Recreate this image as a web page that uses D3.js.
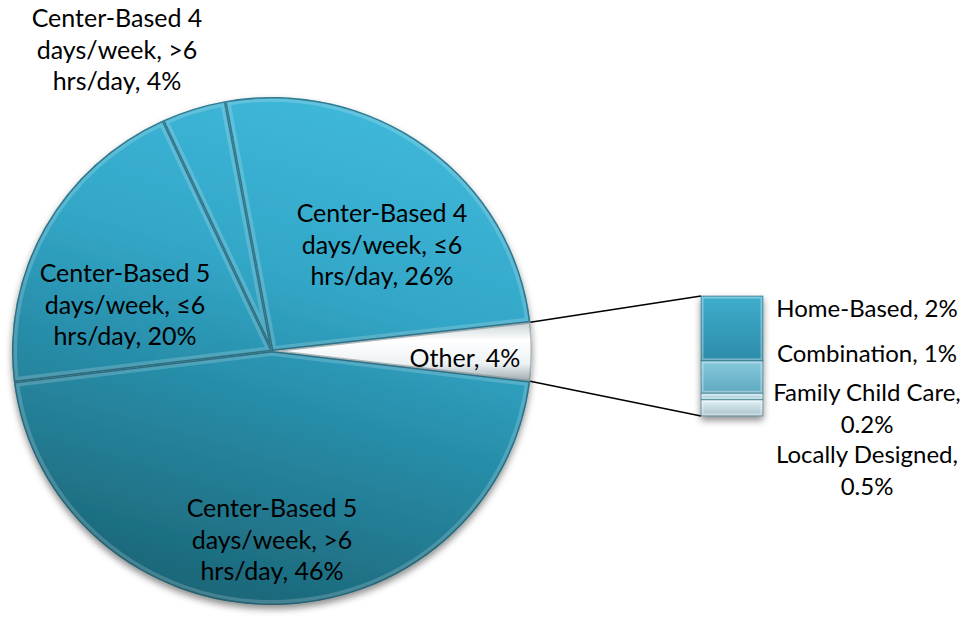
<!DOCTYPE html>
<html>
<head>
<meta charset="utf-8">
<script src="https://cdn.jsdelivr.net/npm/d3@7"></script>
<style>
  body { margin: 0; background: #fff; }
  svg { display: block; }
  text { font-family: Lato, "Open Sans", sans-serif; font-size: 25px; fill: #000; }
</style>
</head>
<body>
<div id="vis"></div>
<script>
// main pie slices, clockwise after "Other"
var pieCategories = ["Center-Based 5 days/week, >6 hrs/day", "Center-Based 5 days/week, \u22646 hrs/day",
    "Center-Based 4 days/week, >6 hrs/day", "Center-Based 4 days/week, \u22646 hrs/day"];
var pieValues = [46, 20, 4, 26];
var pieLabelLines = [
    ["Center-Based 5", "days/week, >6", "hrs/day, 46%"],
    ["Center-Based 5", "days/week, \u22646", "hrs/day, 20%"],
    ["Center-Based 4", "days/week, >6", "hrs/day, 4%"],
    ["Center-Based 4", "days/week, \u22646", "hrs/day, 26%"]
];
var otherLabel = "Other, 4%";

// the bar that splits "Other"
var barCategories = ["Home-Based", "Combination", "Family Child Care", "Locally Designed"];
var barValues = [2, 1, 0.2, 0.5];
var barLabelLines = [["Home-Based, 2%"], ["Combination, 1%"], ["Family Child Care,", "0.2%"], ["Locally Designed,", "0.5%"]];

var width = 974, height = 621;
var cx = 272, cy = 351, rx = 260, ry = 254;
var startDeg = 83.5;
var barX = 701, barW = 62, barTop = 296, barBottom = 416;
var lineH = 31.5;

// label anchors (centre x, first baseline)
var pieLabelPos = [[272, 517], [125, 282], [117, 27], [382, 222]];
var otherLabelPos = [465, 367];
var barLabelX = 867;
var barLabelY = [317, 362, 401, 463];
var barLineH = 32;

var svg = d3.select("#vis").append("svg")
    .attr("width", width)
    .attr("height", height);

var defs = svg.append("defs");

var shadow = defs.append("filter").attr("id", "shadow")
    .attr("x", "-10%").attr("y", "-10%").attr("width", "120%").attr("height", "125%");
shadow.append("feDropShadow").attr("dx", 0).attr("dy", 4).attr("stdDeviation", 3.5)
    .attr("flood-color", "#000").attr("flood-opacity", 0.45);

// gradient in the pie's local (centred) coordinates
var pieGrad = defs.append("linearGradient").attr("id", "pieGrad")
    .attr("gradientUnits", "userSpaceOnUse")
    .attr("x1", rx * 0.3).attr("y1", -rx)
    .attr("x2", -rx * 0.3).attr("y2", rx);
[["0", "#3fb8da"], ["0.35", "#33a7c8"], ["0.55", "#2991ae"], ["0.8", "#22788e"], ["1", "#1b6476"]].forEach(function(s) {
    pieGrad.append("stop").attr("offset", s[0]).attr("stop-color", s[1]);
});

var otherGrad = defs.append("linearGradient").attr("id", "otherGrad")
    .attr("x1", 0).attr("y1", 0).attr("x2", 0).attr("y2", 1);
[["0", "#c7d0d4"], ["0.3", "#ffffff"], ["0.7", "#eef2f4"], ["1", "#9ba8ad"]].forEach(function(s) {
    otherGrad.append("stop").attr("offset", s[0]).attr("stop-color", s[1]);
});

var barColors = [["#3fadcd", "#2c8ca8"], ["#86c8dc", "#5fa9c0"], ["#c3e2ec", "#9fc7d3"], ["#e2f1f5", "#a9c2ca"]];
barColors.forEach(function(c, i) {
    var g = defs.append("linearGradient").attr("id", "barGrad" + i)
        .attr("x1", 0).attr("y1", 0).attr("x2", 0).attr("y2", 1);
    g.append("stop").attr("offset", "0").attr("stop-color", c[0]);
    g.append("stop").attr("offset", "1").attr("stop-color", c[1]);
});

// pie data: "Other" first, then the main slices
var otherValue = d3.sum(barValues);
var pieData = [{ name: "Other", value: otherValue, other: true }].concat(
    pieCategories.map(function(c, i) { return { name: c, value: pieValues[i], idx: i }; }));

var pie = d3.pie().sort(null).value(function(d) { return d.value; })
    .startAngle(startDeg * Math.PI / 180)
    .endAngle(startDeg * Math.PI / 180 + 2 * Math.PI);
var arcs = pie(pieData);
var arc = d3.arc().innerRadius(0).outerRadius(rx);
var pieT = "translate(" + cx + "," + cy + ") scale(1," + (ry / rx) + ")";

var pieG = svg.append("g").attr("filter", "url(#shadow)");
var pieInner = pieG.append("g").attr("transform", pieT);

arcs.forEach(function(a, i) {
    defs.append("clipPath").attr("id", "clip" + i)
        .append("path").attr("d", arc(a));
});

var slices = pieInner.selectAll("g.slice").data(arcs).enter().append("g").attr("class", "slice");
slices.append("path")
    .attr("d", arc)
    .attr("fill", function(d) { return d.data.other ? "url(#otherGrad)" : "url(#pieGrad)"; });

// bevel: soft inner highlight along each slice edge
var bevel = svg.append("g").attr("transform", pieT);
arcs.forEach(function(a, i) {
    var gg = bevel.append("g").attr("clip-path", "url(#clip" + i + ")");
    gg.append("path").attr("d", arc(a))
        .attr("fill", "none").attr("stroke", "#ffffff")
        .attr("stroke-opacity", a.data.other ? 0.0 : 0.18).attr("stroke-width", 10);
    gg.append("path").attr("d", arc(a))
        .attr("fill", "none").attr("stroke", a.data.other ? "#7d8a90" : "#174a58")
        .attr("stroke-opacity", 0.6).attr("stroke-width", 3);
});

// connector lines from the "Other" slice to the bar
var oa = arcs[0];
function rim(ang) { return [cx + rx * Math.sin(ang), cy - ry * Math.cos(ang)]; }
var p0 = rim(oa.startAngle), p1 = rim(oa.endAngle);
svg.append("line").attr("x1", p0[0]).attr("y1", p0[1]).attr("x2", barX).attr("y2", barTop)
    .attr("stroke", "#000").attr("stroke-width", 1.6);
svg.append("line").attr("x1", p1[0]).attr("y1", p1[1]).attr("x2", barX).attr("y2", barBottom)
    .attr("stroke", "#000").attr("stroke-width", 1.6);

// the stacked bar
var yScale = d3.scaleLinear().domain([0, otherValue]).range([barTop, barBottom]);
var cum = 0;
var barData = barValues.map(function(v, i) {
    var d = { name: barCategories[i], y0: cum, y1: cum + v, i: i };
    cum += v;
    return d;
});
var barG = svg.append("g").attr("filter", "url(#shadow)");
var segs = barG.selectAll("g.seg").data(barData).enter().append("g").attr("class", "seg");
segs.append("rect")
    .attr("x", barX)
    .attr("y", function(d) { return yScale(d.y0); })
    .attr("width", barW)
    .attr("height", function(d) { return yScale(d.y1) - yScale(d.y0); })
    .attr("fill", function(d) { return "url(#barGrad" + d.i + ")"; });
segs.append("rect")
    .attr("x", barX + 1.5)
    .attr("y", function(d) { return yScale(d.y0) + 1.5; })
    .attr("width", barW - 3)
    .attr("height", function(d) { return Math.max(0, yScale(d.y1) - yScale(d.y0) - 3); })
    .attr("fill", "none")
    .attr("stroke", "#ffffff").attr("stroke-opacity", 0.35).attr("stroke-width", 2);
segs.append("rect")
    .attr("x", barX)
    .attr("y", function(d) { return yScale(d.y0); })
    .attr("width", barW)
    .attr("height", function(d) { return yScale(d.y1) - yScale(d.y0); })
    .attr("fill", "none")
    .attr("stroke", "#2f6f80").attr("stroke-opacity", 0.6).attr("stroke-width", 1);

// labels
function multiLine(lines, x, y, lh) {
    var t = svg.append("text").attr("text-anchor", "middle");
    lines.forEach(function(l, k) {
        t.append("tspan").attr("x", x).attr("y", y + k * lh).text(l);
    });
    return t;
}
pieLabelLines.forEach(function(lines, i) {
    multiLine(lines, pieLabelPos[i][0], pieLabelPos[i][1], lineH);
});
multiLine([otherLabel], otherLabelPos[0], otherLabelPos[1], lineH);
barLabelLines.forEach(function(lines, i) {
    multiLine(lines, barLabelX, barLabelY[i], barLineH).style("font-size", "24px");
});
</script>
</body>
</html>
